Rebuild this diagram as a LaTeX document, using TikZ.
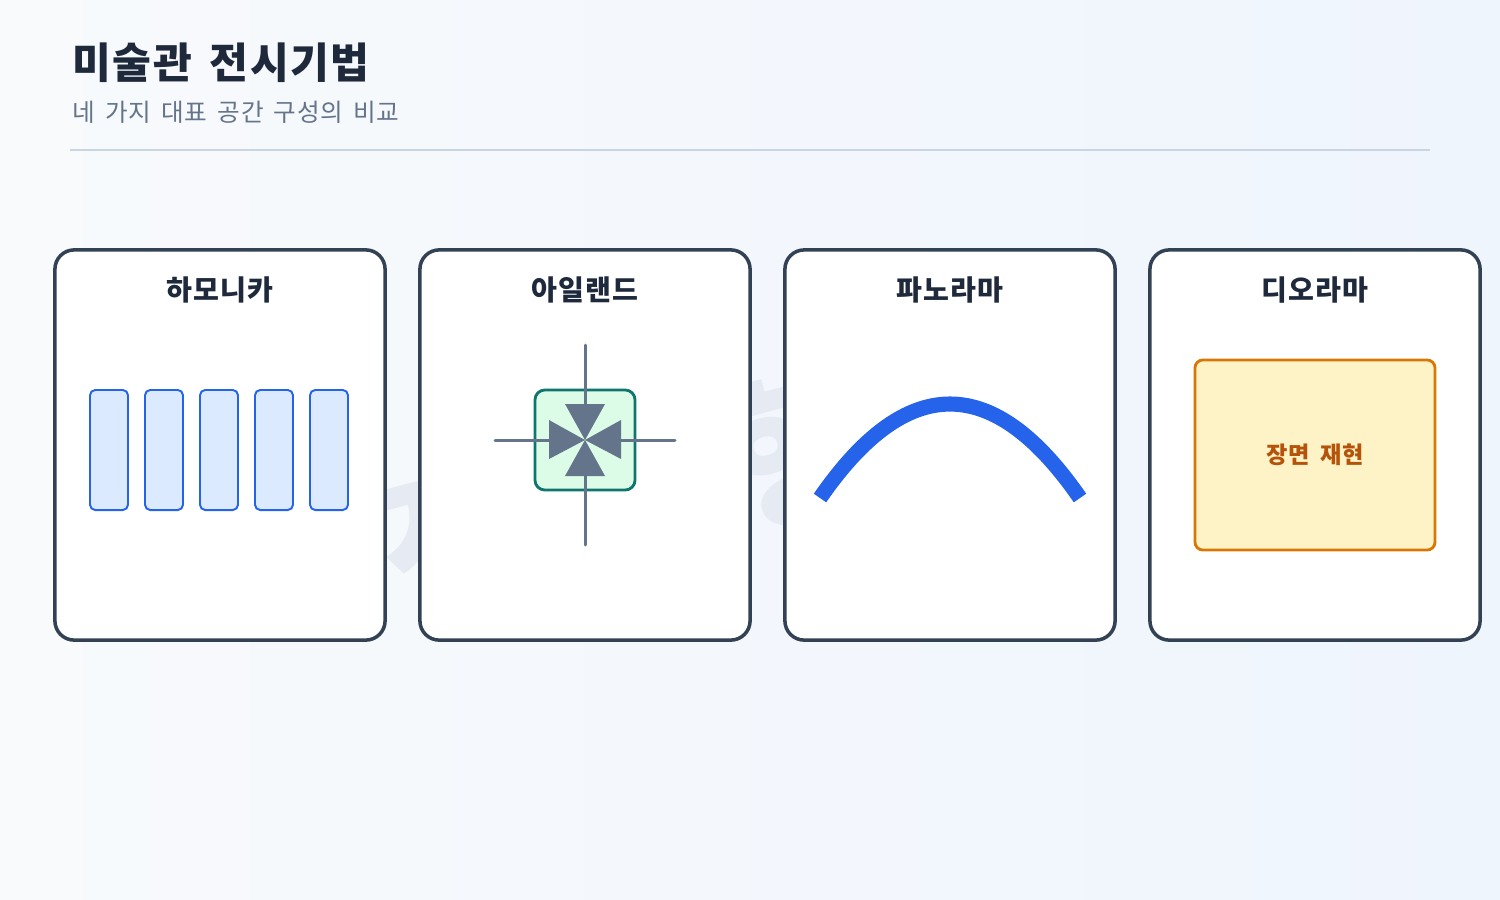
\documentclass[tikz,border=0pt]{standalone}
\usepackage{fontspec}
\setmainfont{Noto Sans CJK KR}
\usetikzlibrary{shapes.geometric}
\definecolor{bgA}{HTML}{F8FAFC}
\definecolor{bgB}{HTML}{EFF5FD}
\definecolor{ink}{HTML}{1E293B}
\definecolor{subink}{HTML}{64748B}
\definecolor{rule}{HTML}{CBD5E1}
\definecolor{cardline}{HTML}{334155}
\definecolor{blueline}{HTML}{2563EB}
\definecolor{bluefill}{HTML}{DBEAFE}
\definecolor{greenfill}{HTML}{DCFCE7}
\definecolor{greenline}{HTML}{0F766E}
\definecolor{slate}{HTML}{64748B}
\definecolor{amberfill}{HTML}{FEF3C7}
\definecolor{amberline}{HTML}{D97706}
\definecolor{ambertext}{HTML}{B45309}
\definecolor{wmark}{HTML}{E6EBF3}
\newcommand{\wgap}[1]{\hspace{#1em}}
\begin{document}
\begin{tikzpicture}[x=0.01cm,y=-0.01cm,
  card/.style={draw=cardline,line width=1pt,fill=white,rounded corners=5.5pt,
    minimum width=3.3cm,minimum height=3.9cm,inner sep=0pt},
  cardtitle/.style={font=\bfseries\fontsize{8}{10}\selectfont\addfontfeatures{LetterSpace=4},text=ink,anchor=center},
  bar/.style={draw=blueline,fill=bluefill,line width=0.55pt,rounded corners=1.5pt,
    minimum width=0.38cm,minimum height=1.2cm,inner sep=0pt},
  islandbox/.style={draw=greenline,fill=greenfill,line width=0.8pt,rounded corners=2.8pt,
    minimum width=1cm,minimum height=1cm,inner sep=0pt},
  crossline/.style={draw=slate,line width=0.85pt,line cap=round},
  wedge/.style={fill=slate},
  scenebox/.style={draw=amberline,fill=amberfill,line width=0.8pt,rounded corners=2.3pt,
    minimum width=2.4cm,minimum height=1.9cm,inner sep=0pt,
    font=\bfseries\fontsize{6.6}{8}\selectfont\addfontfeatures{LetterSpace=2},text=ambertext}]
\useasboundingbox (0,0) rectangle (1500,900);
\shade[left color=bgA,right color=bgB] (0,0) rectangle (1500,900);
% header
\node[anchor=base west,inner sep=0pt,font=\bfseries\fontsize{12}{14}\selectfont\addfontfeatures{LetterSpace=3.5},text=ink] (title) at (72,78) {미술관\wgap{0.42}전시기법};
\node[anchor=base west,inner sep=0pt,font=\fontsize{7}{8.5}\selectfont\addfontfeatures{LetterSpace=4},text=subink] (subtitle) at (72,121) {네\wgap{0.4}가지\wgap{0.4}대표\wgap{0.4}공간\wgap{0.4}구성의\wgap{0.4}비교};
\coordinate (ruleL) at (70,150);
\coordinate (ruleR) at (1430,150);
\draw[rule,line width=0.8pt] (ruleL) -- (ruleR);
% watermark
\node[rotate=15,text=wmark,font=\bfseries\fontsize{46}{50}\selectfont\addfontfeatures{LetterSpace=5}] (wm) at (700,475) {전시 형태};
% cards
\node[card] (c1) at (220,445) {};
\node[card] (c2) at (585,445) {};
\node[card] (c3) at (950,445) {};
\node[card] (c4) at (1315,445) {};
\node[cardtitle] (t1) at (220,290) {하모니카};
\node[cardtitle] (t2) at (585,290) {아일랜드};
\node[cardtitle] (t3) at (950,290) {파노라마};
\node[cardtitle] (t4) at (1315,290) {디오라마};
% harmonica
\foreach \i/\x in {1/109,2/164,3/219,4/274,5/329}{
  \node[bar] (b\i) at (\x,450) {};
}
% island
\coordinate (vt) at (585,345);
\coordinate (vb) at (585,545);
\coordinate (hl) at (495,440);
\coordinate (hr) at (675,440);
\node[islandbox] (isl) at (585,440) {};
\coordinate (ctr) at (585,440);
\fill[wedge] (565,404) -- (605,404) -- (ctr) -- cycle;
\fill[wedge] (565,476) -- (605,476) -- (ctr) -- cycle;
\fill[wedge] (549,420) -- (549,459) -- (ctr) -- cycle;
\fill[wedge] (621,420) -- (621,459) -- (ctr) -- cycle;
\draw[crossline] (vt) -- (585,404);
\draw[crossline] (585,476) -- (vb);
\draw[crossline] (hl) -- (549,440);
\draw[crossline] (621,440) -- (hr);
% panorama
\coordinate (pl) at (820,498);
\coordinate (pr) at (1080,498);
\draw[blueline,line width=4.3pt] (pl) .. controls (906.7,372.7) and (993.3,372.7) .. (pr);
% diorama
\node[scenebox] (scene) at (1315,455) {장면\wgap{0.45}재현};
\end{tikzpicture}
\end{document}
